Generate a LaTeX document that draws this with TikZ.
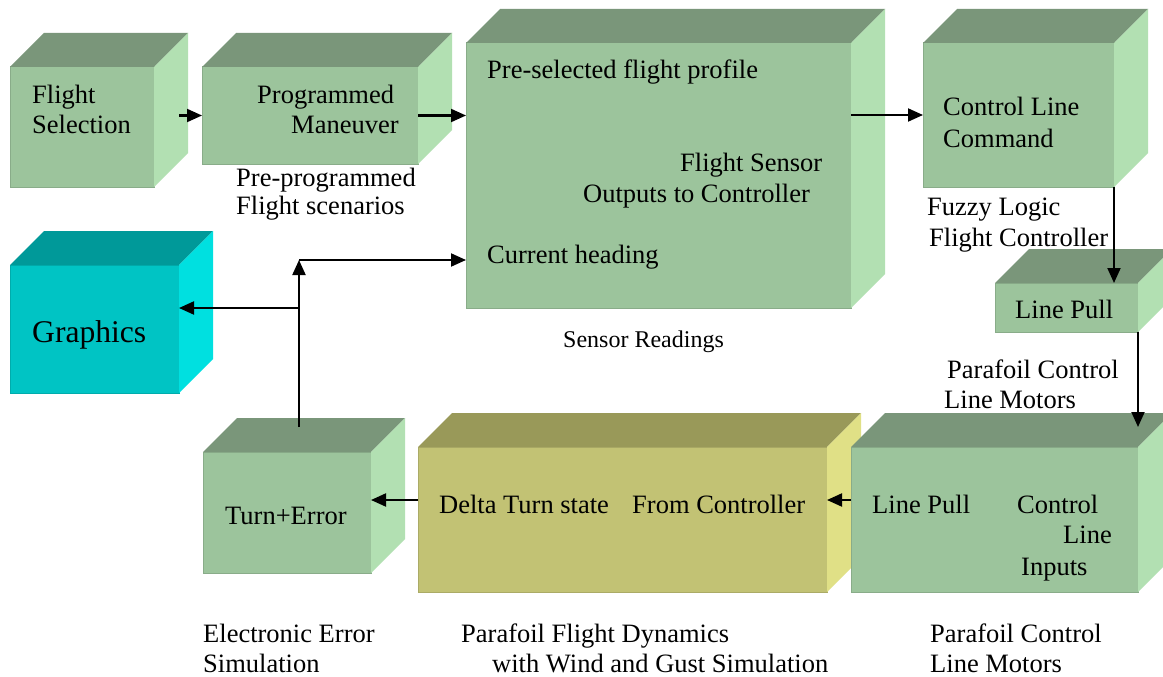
\documentclass[tikz,border=0pt]{standalone}
\usepackage{fontspec}
\setmainfont{Liberation Serif}
\usetikzlibrary{arrows.meta,calc}

% face colours of the three kinds of blocks
\definecolor{gFront}{HTML}{9CC49C}
\definecolor{gTop}{HTML}{7A967A}
\definecolor{gSide}{HTML}{B2E0B2}
\definecolor{yFront}{HTML}{C2C274}
\definecolor{yTop}{HTML}{999959}
\definecolor{ySide}{HTML}{E0E086}
\definecolor{cFront}{HTML}{00C4C4}
\definecolor{cTop}{HTML}{009999}
\definecolor{cSide}{HTML}{00E0E0}

\tikzset{
  x=1pt, y=-1pt,
  frontface/.style={inner sep=0pt, outer sep=0pt, line width=1pt},
  lbl/.style={inner sep=0pt, anchor=base west, font=\fontsize{26.5}{31}\selectfont},
  biglbl/.style={lbl, font=\fontsize{31.6}{37}\selectfont},
  smalllbl/.style={lbl, font=\fontsize{24}{29}\selectfont},
  arr/.style={line width=2pt, -{Triangle[length=15pt,width=13pt]}},
}

% a block drawn as a cube: name, front x1, y1, x2, y2, front, top, side colour
\newcommand\cubebox[8]{%
  \node[frontface, fill=#6, draw=#6!88!black,
        minimum width={(#4-#2)*1pt}, minimum height={(#5-#3)*1pt}]
        (#1) at ({(#2+#4)/2},{(#3+#5)/2}) {};
  \fill[#7] (#1.north west) -- (#1.north east) -- ++(34,-34)
            -- ($(#1.north west)+(34,-34)$) -- cycle;
  \fill[#8] (#1.north east) -- ++(34,-34)
            -- ($(#1.south east)+(34,-34)$) -- (#1.south east) -- cycle;
}

\begin{document}
\begin{tikzpicture}
\useasboundingbox (0,0) rectangle (1163,677);
\clip (0,0) rectangle (1163,677);
\fill[white] (0,0) rectangle (1163,677);

% blocks
\cubebox{sel}{10}{67}{154}{187}{gFront}{gTop}{gSide}
\cubebox{prog}{202}{67}{418}{164}{gFront}{gTop}{gSide}
\cubebox{big}{466}{43}{851}{308}{gFront}{gTop}{gSide}
\cubebox{cmd}{923}{43}{1114}{187}{gFront}{gTop}{gSide}
\cubebox{lp}{995}{283}{1138}{332}{gFront}{gTop}{gSide}
\cubebox{gfx}{10}{265}{179}{393}{cFront}{cTop}{cSide}
\cubebox{turn}{203}{452}{371}{573}{gFront}{gTop}{gSide}
\cubebox{dyn}{418}{447}{827}{592}{yFront}{yTop}{ySide}
\cubebox{motors}{851}{447}{1138}{592}{gFront}{gTop}{gSide}

% texts
\node[lbl] (t1a) at (32,103) {Flight};
\node[lbl] (t1b) at (32,133) {Selection};
\node[lbl] (t2a) at (257,103) {Programmed};
\node[lbl] (t2b) at (291,133) {Maneuver};
\node[lbl] (t2c) at (236,186) {Pre-programmed};
\node[lbl] (t2d) at (236,214) {Flight scenarios};
\node[lbl] (t3a) at (487,79) {Pre-selected flight profile};
\node[lbl] (t3b) at (680,171) {Flight Sensor};
\node[lbl] (t3c) at (583,202) {Outputs to Controller};
\node[lbl] (t3d) at (487,263) {Current heading};
\node[smalllbl] (t3e) at (563,347) {Sensor Readings};
\node[lbl] (t4a) at (943,116) {Control Line};
\node[lbl] (t4b) at (943,147) {Command};
\node[lbl] (t4c) at (927,215) {Fuzzy Logic};
\node[lbl] (t4d) at (929,246) {Flight Controller};
\node[lbl] (t5a) at (1015,318) {Line Pull};
\node[biglbl] (tg) at (32,342) {Graphics};
\node[lbl] (t6a) at (225,524) {Turn+Error};
\node[lbl] (t6b) at (203,642) {Electronic Error};
\node[lbl] (t6c) at (203,672) {Simulation};
\node[lbl] (t7a) at (439,513) {Delta Turn state};
\node[lbl] (t7b) at (632,513) {From Controller};
\node[lbl] (t7c) at (461,642) {Parafoil Flight Dynamics};
\node[lbl] (t7d) at (492,672) {with Wind and Gust Simulation};
\node[lbl] (t8a) at (947,378) {Parafoil Control};
\node[lbl] (t8b) at (944,408) {Line Motors};
\node[lbl] (t8c) at (872,513) {Line Pull};
\node[lbl] (t8d) at (1017,513) {Control};
\node[lbl] (t8e) at (1063,543) {Line};
\node[lbl] (t8f) at (1021,575) {Inputs};
\node[lbl] (t8g) at (930,642) {Parafoil Control};
\node[lbl] (t8h) at (930,672) {Line Motors};

% connectors
\draw[arr] ([xshift=25pt]sel.east |- prog.west) -- (prog.west);
\draw[arr] (prog.east) -- (big.west |- prog.east);
\draw[arr] (big.east |- cmd.west) -- (cmd.west);
\draw[arr] (cmd.south east) -- (cmd.south east |- lp.north);
\draw[arr] (lp.south east) -- ([yshift=20pt]lp.south east |- motors.north);
\draw[arr] ([yshift=19.5pt]motors.west) -- ([yshift=19.5pt]dyn.east);
\draw[arr] ([yshift=19.5pt]dyn.west) -- ([yshift=19.5pt]dyn.west -| turn.east);

\coordinate (corner) at (299,260);
\coordinate (branch) at (299,308);
\draw[arr] ([yshift=25pt]turn.north -| corner) -- (corner);
\draw[arr] (corner) -- (corner -| big.west);
\draw[arr] (branch) -- (branch -| gfx.east);
\end{tikzpicture}
\end{document}
